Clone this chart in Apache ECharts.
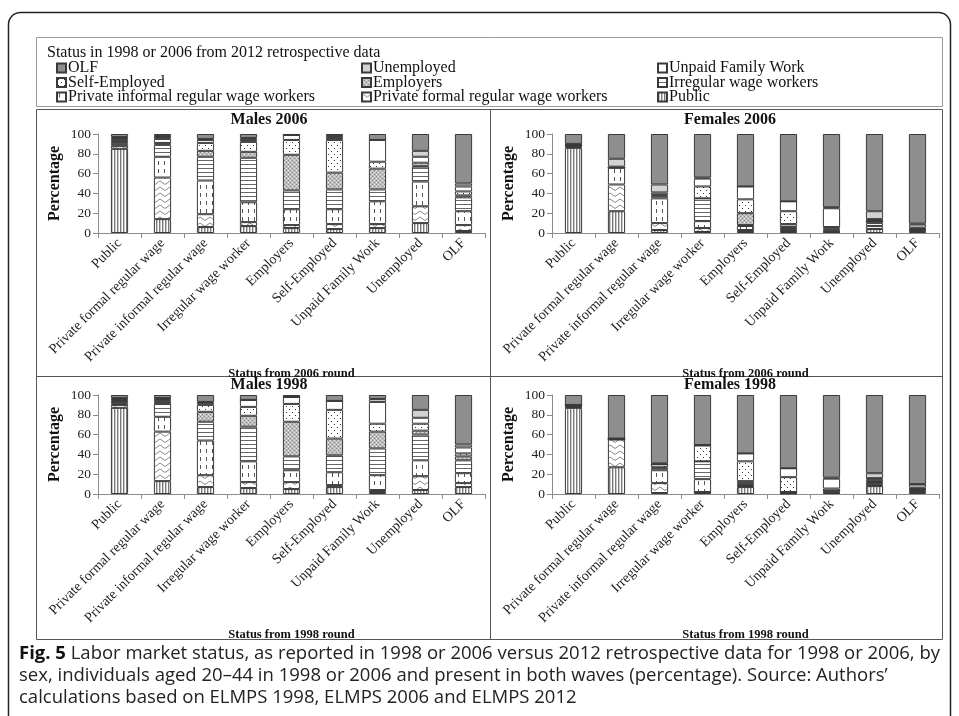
<!DOCTYPE html>
<html>
<head>
<meta charset="utf-8">
<script src="https://cdn.jsdelivr.net/npm/echarts@6/dist/echarts.min.js"></script>
<style>html,body{margin:0;padding:0;background:#fff}#c{width:959px;height:716px}</style>
</head>
<body>
<div id="c"></div>
<script>
// ---------- DATA ----------
const categories = ['Public','Private formal regular wage','Private informal regular wage','Irregular wage worker','Employers','Self-Employed','Unpaid Family Work','Unemployed','OLF'];
// stacked bottom -> top
const statusNames = ['Public','Private formal regular wage workers','Private informal regular wage workers','Irregular wage workers','Employers','Self-Employed','Unpaid Family Work','Unemployed','OLF'];
// legend reading order (rows of three)
const legendOrder = ['OLF','Unemployed','Unpaid Family Work','Self-Employed','Employers','Irregular wage workers','Private informal regular wage workers','Private formal regular wage workers','Public'];
const yTicks = [0,20,40,60,80,100];

// Males 2006 (one value per category)
const m06Public    = [85,14,6,7,5,4,5,10,2];
const m06Formal    = [3,42,13,4,3,5,4,17,6];
const m06Informal  = [2,21,34,20,16,15,23,25,14];
const m06Irregular = [2,12,24,45,19,20,12,15,14];
const m06Employers = [1,2,6,6,36,17,21,1,2];
const m06SelfEmp   = [2,4,8,10,15,33,7,3,4];
const m06Unpaid    = [1,2,3,2,5,2,22,6,5];
const m06Unemp     = [1,1,1,2,0,2,0,6,3];
const m06OLF       = [3,2,5,4,1,2,6,17,50];

// Females 2006
const f06Public    = [86,22,3,1,2,1,1,4,1];
const f06Formal    = [1,27,7,4,1,1,0.5,3,1];
const f06Informal  = [1,17,25,7,4,2,1,3,1];
const f06Irregular = [0.5,0,2,23,1,2,1,2,1];
const f06Employers = [0,0,1,0,12,3,1,0,0.5];
const f06SelfEmp   = [0.5,0,1,12,14,13,1.5,1,1];
const f06Unpaid    = [0.5,1,2,8,13,10,19,1,3];
const f06Unemp     = [0.5,8,8,1,0,0,1,8,1];
const f06OLF       = [10,25,51,44,53,68,74,78,90.5];

// Males 1998
const m98Public    = [87,13,7,6,5,7,2,4,7];
const m98Formal    = [3,50,12,6,7,2,2,14,4];
const m98Informal  = [1,15,35,21,12,13,15,16,10];
const m98Irregular = [2,13,19,35,14,17,27,26,13];
const m98Employers = [1,2,10,11,35,17,17,4,4];
const m98SelfEmp   = [1,2,7,9,18,29,8,7,3];
const m98Unpaid    = [1,1,2,7,7,9,22,6,6];
const m98Unemp     = [1,1,1,0,0,0,3,8,3];
const m98OLF       = [3,3,7,5,2,6,4,15,50];

// Females 1998
const f98Public    = [87,27,1,2,7,0.5,1,8,2];
const f98Formal    = [1,28,10,0,1,0.5,0.5,1,1];
const f98Informal  = [0.5,0.5,13,13,1,0.5,1,2,1];
const f98Irregular = [0.5,0,2,18,2,0.5,1,1,1];
const f98Employers = [0,0,1,0,2,0,0,1,0.5];
const f98SelfEmp   = [0.5,0,3,16,20,15,2,2,1];
const f98Unpaid    = [0.5,0.5,0,0.5,8,9,10,1,3];
const f98Unemp     = [0,0,1,0,0,0,1,5,0.5];
const f98OLF       = [10,44,69,50.5,59,74,83.5,79,90];

const panels = [
  {title:'Males 2006',   xName:'Status from 2006 round', data:[m06Public,m06Formal,m06Informal,m06Irregular,m06Employers,m06SelfEmp,m06Unpaid,m06Unemp,m06OLF]},
  {title:'Females 2006', xName:'Status from 2006 round', data:[f06Public,f06Formal,f06Informal,f06Irregular,f06Employers,f06SelfEmp,f06Unpaid,f06Unemp,f06OLF]},
  {title:'Males 1998',   xName:'Status from 1998 round', data:[m98Public,m98Formal,m98Informal,m98Irregular,m98Employers,m98SelfEmp,m98Unpaid,m98Unemp,m98OLF]},
  {title:'Females 1998', xName:'Status from 1998 round', data:[f98Public,f98Formal,f98Informal,f98Irregular,f98Employers,f98SelfEmp,f98Unpaid,f98Unemp,f98OLF]}
];

// ---------- PATTERNS ----------
function pat(w, h, bg, draw) {
  const c = document.createElement('canvas'); c.width = w; c.height = h;
  const x = c.getContext('2d'); x.fillStyle = bg; x.fillRect(0,0,w,h); if (draw) draw(x);
  return {image: c, repeat: 'repeat'};
}
const fills = [
  pat(3,1,'#ffffff', x=>{x.fillStyle='#7a7a7a';x.fillRect(0,0,1,1);x.fillStyle='#c8c8c8';x.fillRect(1,0,1,1);}),        // Public: vertical lines
  pat(10,6,'#ffffff', x=>{x.strokeStyle='#8a8a8a';x.lineWidth=1;x.beginPath();x.moveTo(0,1);x.lineTo(5,4.5);x.lineTo(10,1);x.stroke();}), // zigzag
  pat(6,8,'#ffffff', x=>{x.fillStyle='#555';x.fillRect(2,1,1,4);}),                                                     // vertical dashes
  pat(1,4,'#ffffff', x=>{x.fillStyle='#666';x.fillRect(0,0,1,1);}),                                                     // horizontal lines
  pat(4,4,'#bdbdbd', x=>{x.fillStyle='#8a8a8a';x.fillRect(0,0,1,1);x.fillRect(2,2,1,1);x.fillStyle='#e6e6e6';x.fillRect(2,0,1,1);x.fillRect(0,2,1,1);}), // stipple
  pat(6,6,'#ffffff', x=>{x.fillStyle='#333';x.fillRect(1,1,1,1);x.fillRect(4,4,1,1);}),                                 // dots
  '#ffffff',   // Unpaid
  '#d2d2d2',   // Unemployed
  '#8e8e8e'    // OLF
];

// ---------- LAYOUT ----------
const SERIF = 'Liberation Serif';
const gridPos = [
  {left:98,  top:134, width:387, height:99},
  {left:552, top:134, width:387, height:99},
  {left:98,  top:395, width:387, height:99},
  {left:552, top:395, width:387, height:99}
];
const titlePos = [{x:269,y:121},{x:730,y:121},{x:269,y:386},{x:730,y:386}];

const grids = [], xAxes = [], yAxes = [], series = [], titles = [];
panels.forEach((p, g) => {
  grids.push(Object.assign({outerBoundsMode:'none', containLabel:false}, gridPos[g]));
  xAxes.push({
    type:'category', gridIndex:g, data:categories,
    axisLine:{lineStyle:{color:'#8c8c8c', width:1}},
    axisTick:{show:true, length:5, lineStyle:{color:'#8c8c8c'}},
    axisLabel:{rotate:45, interval:0, margin:8, fontFamily:SERIF, fontSize:14, color:'#222'},
    name:p.xName, nameLocation:'middle', nameGap:129,
    nameTextStyle:{fontFamily:SERIF, fontSize:12.5, fontWeight:'bold', color:'#111'}
  });
  yAxes.push({
    type:'value', gridIndex:g, min:yTicks[0], max:yTicks[yTicks.length-1], interval:20,
    axisLine:{show:true, lineStyle:{color:'#8c8c8c'}},
    axisTick:{show:true, length:5, lineStyle:{color:'#8c8c8c'}},
    splitLine:{show:false},
    axisLabel:{fontFamily:SERIF, fontSize:13.5, color:'#222', margin:7},
    name:'Percentage', nameLocation:'middle', nameGap:35,
    nameTextStyle:{fontFamily:SERIF, fontSize:16, fontWeight:'bold', color:'#111'}
  });
  statusNames.forEach((s, i) => {
    series.push({
      name:s, type:'bar', stack:'p'+g, xAxisIndex:g, yAxisIndex:g,
      data:p.data[i], barWidth:'40%',
      itemStyle:{color:fills[i], borderColor:'#3a3a3a', borderWidth:1},
      emphasis:{disabled:true}, animation:false
    });
  });
  titles.push({text:p.title, left:titlePos[g].x, top:titlePos[g].y - 9, textAlign:'center', padding:0,
    textStyle:{fontFamily:SERIF, fontSize:16, fontWeight:'bold', color:'#111'}});
});

titles.push({text:'Status in 1998 or 2006 from 2012 retrospective data', left:47, top:45, padding:0,
  textStyle:{fontFamily:SERIF, fontSize:16, fontWeight:'normal', color:'#111'}});
titles.push({
  text:'{b|Fig. 5} Labor market status, as reported in 1998 or 2006 versus 2012 retrospective data for 1998 or 2006, by\nsex, individuals aged 20\u201344 in 1998 or 2006 and present in both waves (percentage). Source: Authors\u2019\ncalculations based on ELMPS 1998, ELMPS 2006 and ELMPS 2012',
  left:19, top:643, padding:0,
  textStyle:{fontFamily:'Open Sans', fontSize:18.5, fontWeight:'normal', color:'#222', lineHeight:22,
    rich:{b:{fontFamily:'Open Sans', fontSize:18.5, fontWeight:'bold', color:'#111', lineHeight:22}}}
});

// one legend per entry, laid out as a 3 x 3 table
const legendCols = [56, 361, 657];
const legendRows = [68, 82.5, 97];
const legends = legendOrder.map((name, k) => ({
  data:[name], left:legendCols[k % 3], top:legendRows[Math.floor(k / 3)] - 8, padding:0,
  icon:'rect', itemWidth:9, itemHeight:9, selectedMode:false,
  textStyle:{fontFamily:SERIF, fontSize:16, color:'#111', padding:[0,0,0,-3]}
}));

const box = (x,y,w,h,stroke,lw,r) => ({type:'rect', shape:{x,y,width:w,height:h,r:r||0}, silent:true,
  style:{fill:null, stroke, lineWidth:lw}});

const chart = echarts.init(document.getElementById('c'), null, {renderer:'canvas'});
chart.setOption({
  animation:false,
  backgroundColor:'#ffffff',
  title:titles,
  legend:legends,
  grid:grids, xAxis:xAxes, yAxis:yAxes, series,
  graphic:[
    box(8.5,12.5,942,760,'#222',1.5,12),
    box(36.5,37.5,906,69,'#9a9a9a',1),
    box(36.5,109.5,454,267,'#555',1),
    box(490.5,109.5,452,267,'#555',1),
    box(36.5,376.5,454,263,'#555',1),
    box(490.5,376.5,452,263,'#555',1)
  ]
});
</script>
</body>
</html>
